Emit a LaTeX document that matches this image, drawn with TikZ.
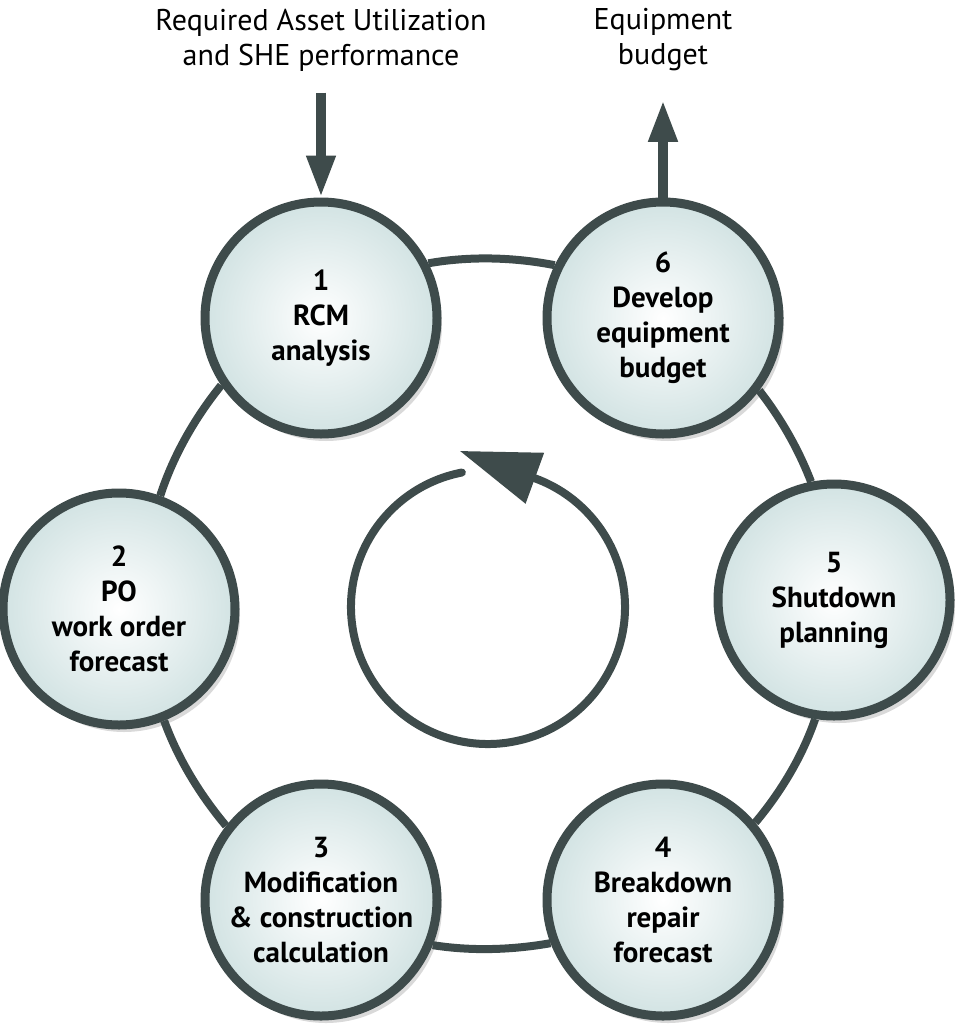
\documentclass[tikz,border=0pt]{standalone}
\usepackage{fontspec}
\setmainfont{PT Sans}
\usepackage{tikz}
\usetikzlibrary{arrows.meta,automata,shadows}

\definecolor{ringgray}{HTML}{3E4B4B}
\definecolor{stepfill}{HTML}{D2E3E3}

\begin{document}
\begin{tikzpicture}[x=1pt,y=-1pt,node distance=342pt,
                    >={Triangle[length=42pt,width=27pt]}]

  \tikzstyle{every state}=[circle,draw=ringgray,line width=9pt,minimum size=232pt,
                           inner color=white,outer color=stepfill,
                           drop shadow={opacity=0.3,shadow xshift=5pt,shadow yshift=-7pt},
                           align=center,text=black,
                           font=\bfseries\fontsize{29}{35}\selectfont]
  \tikzstyle{flow}=[draw=ringgray,line width=10pt,->]
  \tikzstyle{ring}=[draw=ringgray,line width=8pt,looseness=0.85]
  \tikzstyle{label}=[align=center,font=\fontsize{30}{35}\selectfont]

  \useasboundingbox (0,0) rectangle (955,1036);

  \node[state] (RCM) at (321,318)  {1 \\ RCM \\ analysis};
  \node[state] (BUD) [right of=RCM] {6 \\ Develop \\ equipment \\ budget};
  \node[state] (POF) at (119,609)  {2 \\ PO \\ work order \\ forecast};
  \node[state] (SHD) at (834,600)  {5 \\ Shutdown \\ planning};
  \node[state] (MOD) at (321,900)  {3 \\ Modification \\ \& construction \\ calculation};
  \node[state] (BRK) [right of=MOD] {4 \\ Breakdown \\ repair \\ forecast};

  \node[label] (REQ) at (321,40) {Required Asset Utilization \\ and SHE performance};
  \node[label] (EQB) at (663,40) {Equipment \\ budget};

  % outer ring, step to step
  \path[ring]
  (RCM.214) edge [out=231,in=72]  (POF.70)
  (POF.-68) edge [out=290,in=130] (MOD.142)
  (MOD.-22) edge [out=351,in=190] (BRK.201)
  (BRK.40)  edge [out=50,in=251]  (SHD.-99)
  (SHD.101) edge [out=111,in=308] (BUD.-37)
  (BUD.154) edge [out=169,in=10]  (RCM.27)
  ;

  \draw[flow,shorten <=18pt] (REQ) -- (RCM);
  \draw[flow,shorten >=25pt] (BUD) -- (EQB);

  % cycle arrow in the middle
  \coordinate (hub) at (488,607);
  \draw[ring,line cap=round,-{Triangle[length=80pt,width=52pt]}]
    (hub) ++(-101:137) arc (-101:-430:137) -- ++(200:80);
\end{tikzpicture}
\end{document}
